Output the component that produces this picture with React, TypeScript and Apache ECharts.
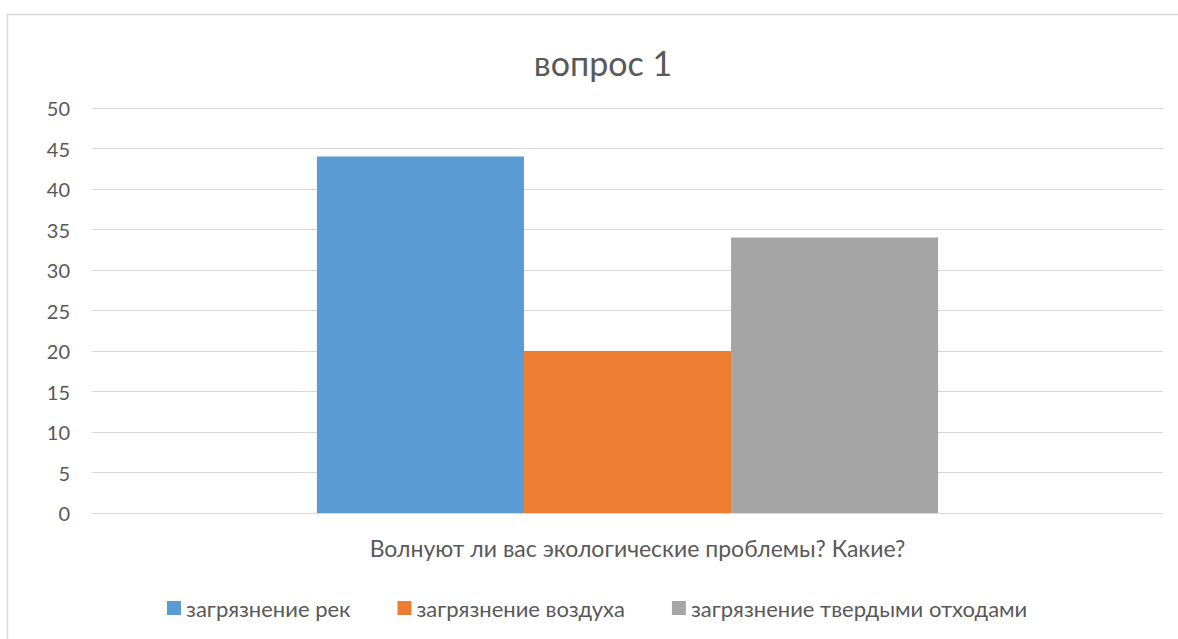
import React, { useEffect, useRef } from "react";
import * as echarts from "echarts";

const categories = ["Волнуют ли вас экологические проблемы? Какие?"];
const seriesNames = ["загрязнение рек", "загрязнение воздуха", "загрязнение твердыми отходами"];
const riversValues = [44];
const airValues = [20];
const wasteValues = [34];
const colors = ["#5B9BD5", "#ED7D31", "#A5A5A5"];
const titleText = "вопрос 1";

const FONT = "Lato, 'Open Sans', sans-serif";
const TXT = "#595959";

export default function App() {
  const ref = useRef<HTMLDivElement>(null);
  useEffect(() => {
    if (!ref.current) return;
    const chart = echarts.init(ref.current, null, { renderer: "svg" });
    const data = [riversValues, airValues, wasteValues];
    chart.setOption({
      animation: false,
      backgroundColor: "#ffffff",
      textStyle: { fontFamily: FONT },
      title: {
        text: titleText,
        left: 598,
        textAlign: "center",
        top: 40,
        textStyle: { fontFamily: FONT, fontSize: 34, fontWeight: "normal", color: TXT },
      },
      graphic: [
        {
          type: "rect",
          shape: { x: 7.5, y: 14.5, width: 1300, height: 800 },
          style: { fill: "none", stroke: "#D9D9D9", lineWidth: 1.5 },
          silent: true,
        },
      ],
      grid: { left: 92, right: 15, top: 108, bottom: 126, containLabel: false },
      legend: {
        top: 592,
        left: 162,
        itemWidth: 14,
        itemHeight: 14,
        itemGap: 47,
        icon: "rect",
        textStyle: { fontFamily: FONT, fontSize: 22, color: TXT },
        data: seriesNames,
      },
      xAxis: {
        type: "category",
        data: categories,
        axisLine: { lineStyle: { color: "#D9D9D9", width: 1 } },
        axisTick: { show: false },
        axisLabel: { color: TXT, fontFamily: FONT, fontSize: 23, margin: 23, padding: [0, 0, 0, 20] },
      },
      yAxis: {
        type: "value",
        min: 0,
        max: 50,
        interval: 5,
        axisLine: { show: false },
        axisTick: { show: false },
        splitLine: { lineStyle: { color: "#D9D9D9", width: 1 } },
        axisLabel: { color: TXT, fontFamily: FONT, fontSize: 20, margin: 22 },
      },
      series: seriesNames.map((name, i) => ({
        name,
        type: "bar",
        data: data[i],
        barGap: "0%",
        barCategoryGap: "42%",
        itemStyle: { color: colors[i] },
      })),
    });
    return () => chart.dispose();
  }, []);
  return <div ref={ref} style={{ position: "absolute", left: 0, top: 0, width: 1178, height: 639 }} />;
}
